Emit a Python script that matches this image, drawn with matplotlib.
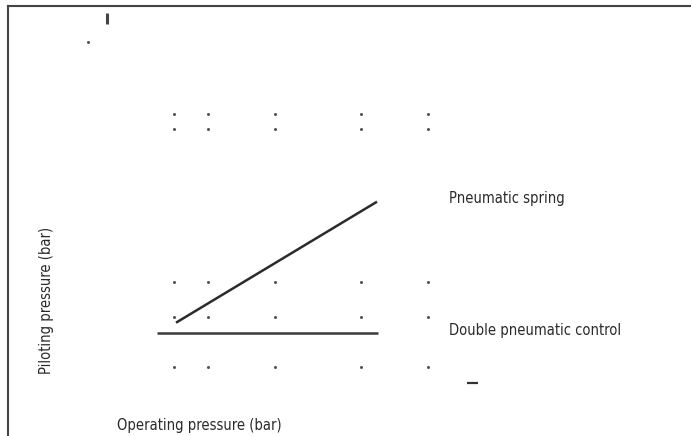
import matplotlib.pyplot as plt
import numpy as np

# values (chart units, y grows downward)
grid_x = [173.5, 208.3, 275, 361, 428]
grid_y = [113.7, 129.3, 282, 316.7, 367.5]
spring_x = [176, 377]
spring_y = [322.7, 201.7]
double_x = [156.7, 377.7]
double_y = [332.7, 332.7]
stray_dot = (88, 41.7)
tick_mark_x = [106.7, 106.7]
tick_mark_y = [13.3, 24]
dash_x = [466.7, 478.3]
dash_y = [383.3, 383.3]

labels = ["Pneumatic spring", "Double pneumatic control"]
xlabel = "Operating pressure (bar)"
ylabel = "Piloting pressure (bar)"

W, H = 691, 436
fig = plt.figure(figsize=(W / 100, H / 100), dpi=100)
ax = fig.add_axes([8 / W, 0, (W - 8) / W, (H - 6) / H])
ax.set_xlim(8, W)
ax.set_ylim(H, 6)
for s in ["right", "bottom"]:
    ax.spines[s].set_visible(False)
for s in ["left", "top"]:
    ax.spines[s].set_color("#444444")
    ax.spines[s].set_linewidth(1.5)
ax.set_xticks([])
ax.set_yticks([])

gx, gy = np.meshgrid(grid_x, grid_y)
ax.plot(gx.ravel(), gy.ravel(), "o", ms=2.2, color="#555555", mec="none")
ax.plot([stray_dot[0]], [stray_dot[1]], "o", ms=2.2, color="#555555", mec="none")

ax.plot(spring_x, spring_y, color="#2b2b2b", lw=1.8, solid_capstyle="butt")
ax.plot(double_x, double_y, color="#3a3a3a", lw=1.8, solid_capstyle="butt")
ax.plot(tick_mark_x, tick_mark_y, color="#444444", lw=2.2, solid_capstyle="butt")
ax.plot(dash_x, dash_y, color="#333333", lw=1.6, solid_capstyle="butt")

txt = dict(fontsize=10.5, family="DejaVu Sans", fontstretch="condensed", color="#2a2a2a",
           va="center")
ax.text(449, 198, labels[0], ha="left", **txt)
ax.text(449, 330, labels[1], ha="left", **txt)
ax.text(199, 425, xlabel, ha="center", **txt)
ax.text(47, 300, ylabel, ha="center", rotation=90, **txt)

fig.savefig("out.png", dpi=100)
